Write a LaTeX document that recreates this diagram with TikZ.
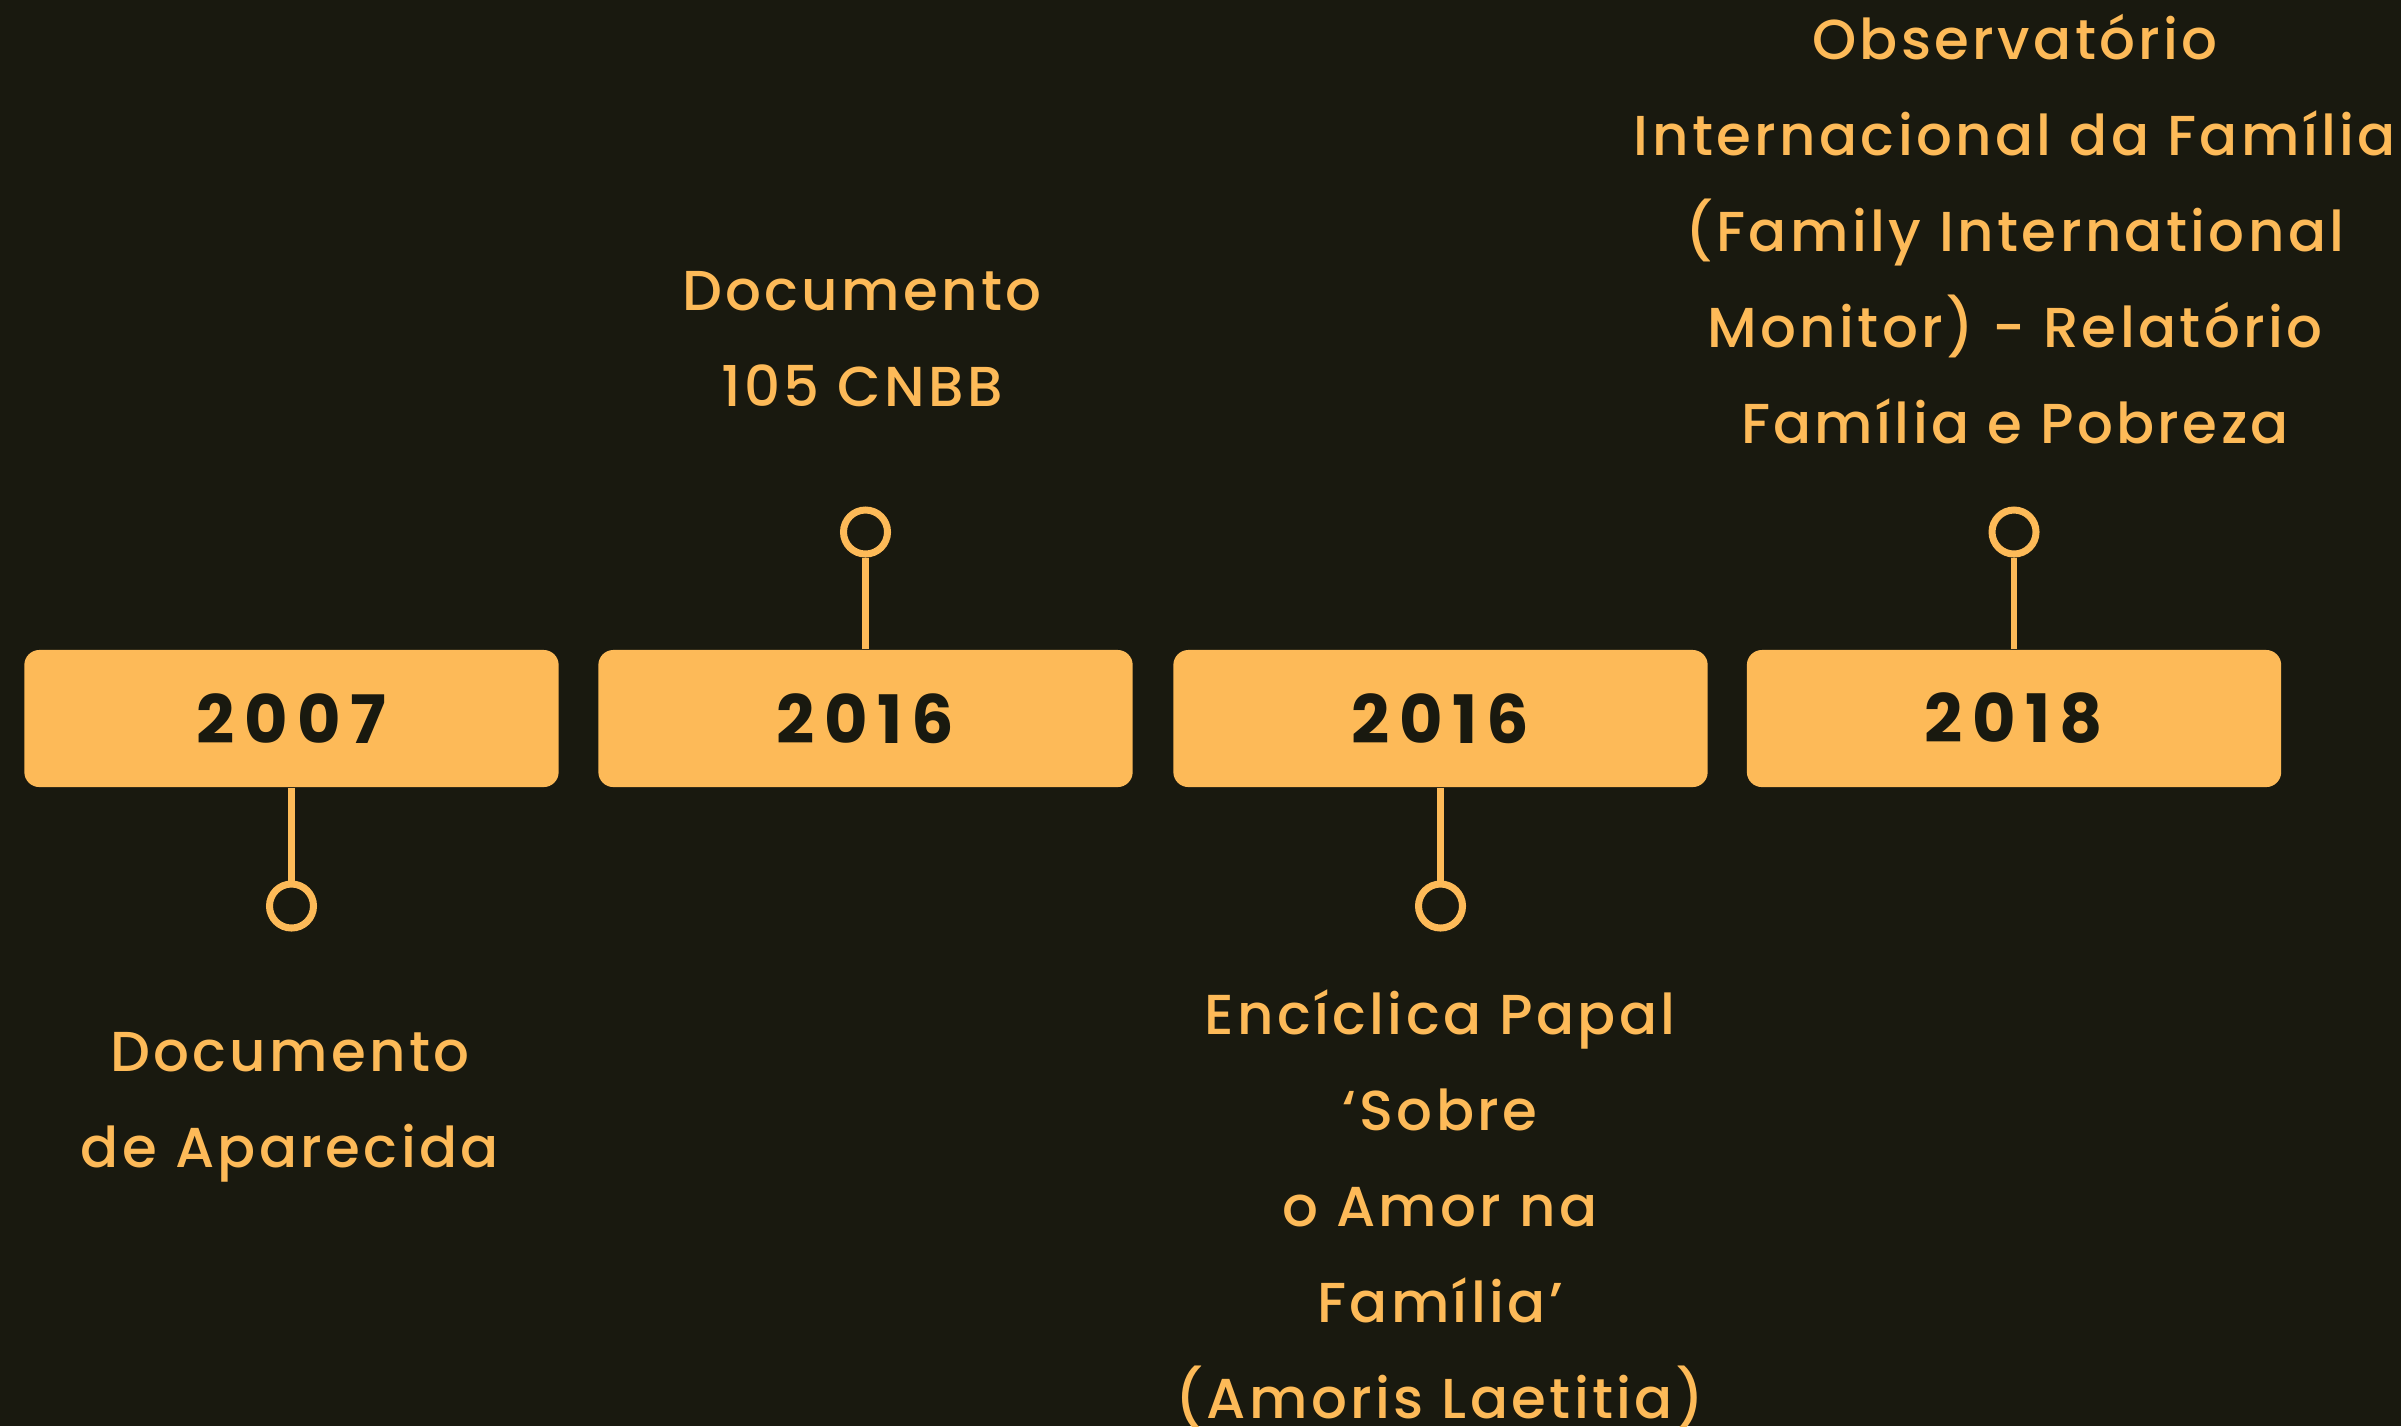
\documentclass[tikz,border=0pt]{standalone}
\usepackage{fontspec}
\setmainfont{Poppins}[UprightFont={* Medium}, BoldFont={* Bold}, LetterSpace=6]
\newfontfamily\yearfont{Poppins}[LetterSpace=14]
\definecolor{bg}{HTML}{19190F}
\definecolor{gold}{HTML}{FDBA58}
\begin{document}
\begin{tikzpicture}[x=0.01cm,y=-0.01cm,
  yearbox/.style={rectangle, rounded corners=0.15cm, fill=gold, minimum width=5.34cm, minimum height=1.37cm, inner sep=0pt, text=bg, font=\yearfont\bfseries\fontsize{19}{19}\selectfont},
  dot/.style={circle, draw=gold, line width=0.07cm, minimum size=0.44cm, inner sep=0pt},
  conn/.style={draw=gold, line width=0.065cm},
  evtext/.style={text=gold, align=center, inner sep=0pt, anchor=base, font=\fontsize{16}{27.3}\selectfont}]
\fill[bg] (0,0) rectangle (2401,1426);
\useasboundingbox (0,0) rectangle (2401,1426);
% year boxes
\node[yearbox] (b1) at (291.5,718.5) {2007};
\node[yearbox] (b2) at (865.5,718.5) {2016};
\node[yearbox] (b3) at (1440.5,718.5) {2016};
\node[yearbox] (b4) at (2014,718.5) {2018};
% circles
\node[dot] (c1) at (291.5,906) {};
\node[dot] (c2) at (865.5,532) {};
\node[dot] (c3) at (1440.5,906) {};
\node[dot] (c4) at (2014,532) {};
% connectors
\draw[conn] (b1.south) -- (c1.north);
\draw[conn] (b2.north) -- (c2.south);
\draw[conn] (b3.south) -- (c3.north);
\draw[conn] (b4.north) -- (c4.south);
% labels (anchor base = baseline of the last line)
\node[evtext] (t1) at (290,1167) {Documento\\de Aparecida};
\node[evtext] (t2) at (862,406) {Documento\\105 CNBB};
\node[evtext] (t3) at (1440,1418) {Encíclica Papal\\‘Sobre\\o Amor na\\Família’\\(Amoris Laetitia)};
\node[evtext] (t4) at (2015,443) {Observatório\\Internacional da Família\\(Family International\\Monitor) - Relatório\\Família e Pobreza};
\end{tikzpicture}
\end{document}
